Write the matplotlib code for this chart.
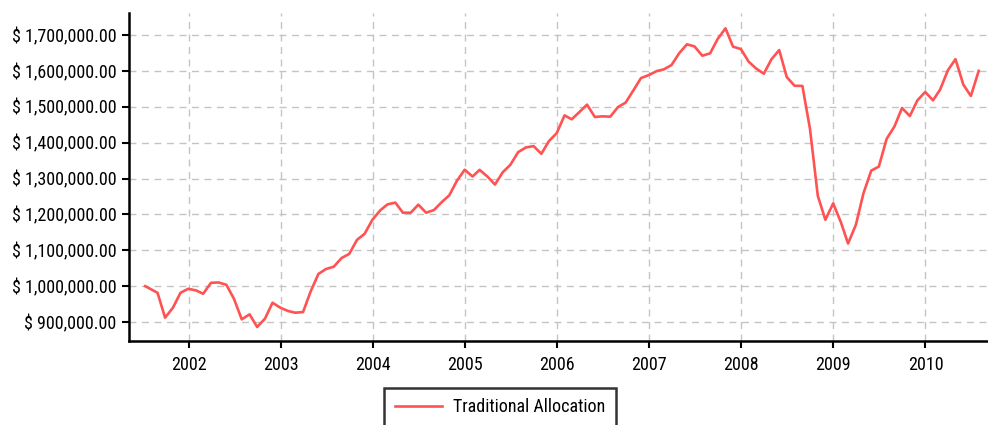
import matplotlib
matplotlib.use("Agg")
import matplotlib.pyplot as plt
import matplotlib.dates as mdates
from matplotlib import font_manager
from matplotlib.ticker import FuncFormatter
import pandas as pd

# pick a narrow face if one is around, else a plain sans
names = {f.name for f in font_manager.fontManager.ttflist}
narrow = [n for n in ["Roboto Condensed", "Liberation Sans Narrow", "DejaVu Sans Condensed",
                      "Open Sans Condensed", "Liberation Sans"] if n in names]
plt.rcParams['font.family'] = narrow[:1] + ['DejaVu Sans']

# first point is the inception date, then month-end values
start_date = "2001-07-13"
month_ends = pd.date_range("2001-08-31", "2010-07-31", freq="ME")
dates = [pd.Timestamp(start_date)] + list(month_ends)

values_2001 = [1000000, 981500, 912000, 939800, 981500, 992600]
values_2002 = [988000, 978700, 1009300, 1010200, 1003700, 964800,
               907400, 921300, 886100, 909300, 953700, 939800]
values_2003 = [930600, 925900, 927800, 985000, 1034000, 1047700,
               1054200, 1078500, 1089700, 1129000, 1145800, 1185000]
values_2004 = [1211200, 1228000, 1232700, 1204700, 1204700, 1227100,
               1204700, 1212100, 1233600, 1253300, 1293500, 1324500]
values_2005 = [1305500, 1324100, 1305500, 1283100, 1317600, 1338100,
               1373500, 1386600, 1390300, 1368900, 1404300, 1426700]
values_2006 = [1476000, 1464900, 1485400, 1505900, 1471400, 1473300,
               1472300, 1499300, 1511500, 1545900, 1580000, 1588300]
values_2007 = [1599400, 1604100, 1616200, 1648800, 1673900, 1668300,
               1642300, 1648800, 1688800, 1718600, 1667400, 1660900]
values_2008 = [1625500, 1606900, 1592000, 1632000, 1658100, 1582700,
               1558500, 1558000, 1438600, 1252000, 1184900, 1230600]
values_2009 = [1177400, 1118700, 1170900, 1258600, 1322000, 1333200,
               1410600, 1445100, 1496500, 1474100, 1517900, 1541200]
values_2010 = [1517900, 1547800, 1601900, 1632600, 1561800, 1530000, 1600000]

values = (values_2001 + values_2002 + values_2003 + values_2004 + values_2005
          + values_2006 + values_2007 + values_2008 + values_2009 + values_2010)

series_name = "Traditional Allocation"
y_ticks = [900000, 1000000, 1100000, 1200000, 1300000, 1400000, 1500000, 1600000, 1700000]
x_years = list(range(2002, 2011))

fs = 13 if narrow and narrow[0] != "Liberation Sans" else 10.5

fig = plt.figure(figsize=(9.88, 4.25), dpi=100)
ax = fig.add_axes([0.1306, 0.1976, 0.8684, 0.7718])

line, = ax.plot(dates, values, color="#ff5252", lw=1.9, label=series_name)

ax.set_xlim(pd.Timestamp("2001-05-10"), pd.Timestamp("2010-09-02"))
ax.set_ylim(847000, 1761300)

ax.set_yticks(y_ticks)
ax.yaxis.set_major_formatter(FuncFormatter(lambda v, p: "$ {:,.2f}".format(v)))
ax.set_xticks([pd.Timestamp(f"{y}-01-01") for y in x_years])
ax.xaxis.set_major_formatter(mdates.DateFormatter("%Y"))

ax.grid(True, color="#c4c4c4", linestyle=(0, (5, 4)), lw=1.0)
ax.set_axisbelow(True)

for s in ["top", "right"]:
    ax.spines[s].set_visible(False)
for s in ["left", "bottom"]:
    ax.spines[s].set_linewidth(1.8)
    ax.spines[s].set_color("black")

ax.tick_params(axis="both", direction="out", length=5, width=1.5, labelsize=fs, colors="black")
ax.tick_params(axis="x", pad=6)
ax.tick_params(axis="y", pad=4)

leg = fig.legend(handles=[line], loc="upper center", bbox_to_anchor=(0.506, 0.088),
                 frameon=True, fancybox=False, fontsize=fs, handlelength=2.6,
                 handletextpad=0.6, borderpad=0.6, borderaxespad=0)
leg.get_frame().set_edgecolor("black")
leg.get_frame().set_linewidth(1.8)

fig.savefig("out.png", dpi=100)
